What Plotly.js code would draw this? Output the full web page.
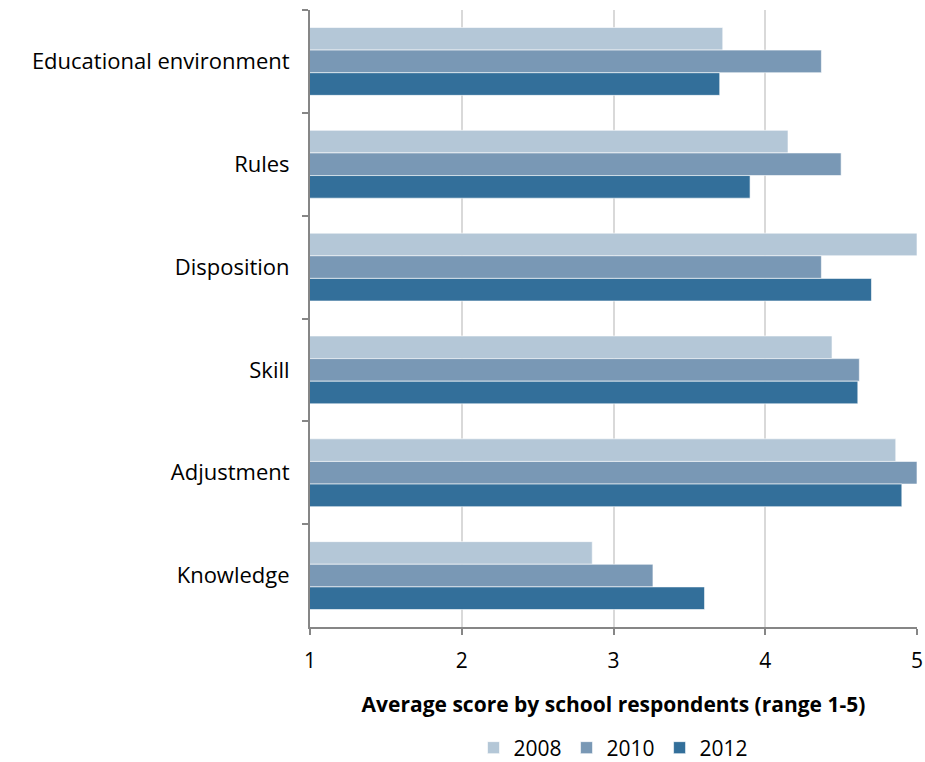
<!DOCTYPE html>
<html>
<head>
<meta charset="utf-8">
<script src="https://cdn.plot.ly/plotly-3.0.1.min.js"></script>
<style>html,body{margin:0;padding:0;background:#fff;}#chart{width:925px;height:762px;}</style>
</head>
<body>
<div id="chart"></div>
<script>
const categories = ["Educational environment", "Rules", "Disposition", "Skill", "Adjustment", "Knowledge"];
const years = ["2008", "2010", "2012"];
const values2008 = [3.72, 4.15, 5.00, 4.44, 4.86, 2.86];
const values2010 = [4.37, 4.50, 4.37, 4.62, 5.00, 3.26];
const values2012 = [3.70, 3.90, 4.70, 4.61, 4.90, 3.60];
const xTicks = [1, 2, 3, 4, 5];
const colors = ["#b4c7d7", "#7998b5", "#336f9a"];

const series = [values2008, values2010, values2012];
const traces = series.map((vals, i) => ({
  type: "bar",
  orientation: "h",
  name: years[i],
  y: categories,
  x: vals,
  marker: {color: colors[i], line: {color: "rgba(255,255,255,0.6)", width: 1}},
  hoverinfo: "x+y+name"
}));

const font = "'Open Sans', 'Liberation Sans', sans-serif";
const layout = {
  width: 925, height: 762,
  margin: {l: 310, r: 8, t: 10, b: 135, autoexpand: false},
  paper_bgcolor: "#fff", plot_bgcolor: "#fff",
  barmode: "group",
  bargap: 0.34, bargroupgap: 0,
  font: {family: font, size: 20, color: "#000"},
  showlegend: true,
  legend: {orientation: "h", x: 0.5, xanchor: "center", xref: "paper",
           y: 14 / 762, yref: "container", yanchor: "middle",
           font: {size: 21, family: font}, traceorder: "normal"},
  xaxis: {
    range: [1, 5], tickvals: xTicks, ticktext: xTicks.map(String),
    showgrid: true, gridcolor: "#d9d9d9", gridwidth: 2,
    showline: true, linecolor: "#868686", linewidth: 2,
    ticks: "outside", ticklen: 6, tickcolor: "#868686", tickwidth: 2,
    ticklabelstandoff: 8, ticklabeloverflow: "allow",
    tickfont: {size: 21}, zeroline: false,
    title: {text: "<b>Average score by school respondents (range 1-5)</b>", font: {size: 21}, standoff: 24}
  },
  yaxis: {
    type: "category", autorange: "reversed",
    showline: true, linecolor: "#868686", linewidth: 2,
    ticks: "outside", tickson: "boundaries", ticklen: 6, tickcolor: "#868686", tickwidth: 2,
    ticklabelstandoff: 14,
    tickfont: {size: 22}, showgrid: false, zeroline: false
  }
};

Plotly.newPlot("chart", traces, layout, {displayModeBar: false, staticPlot: true});
</script>
</body>
</html>
